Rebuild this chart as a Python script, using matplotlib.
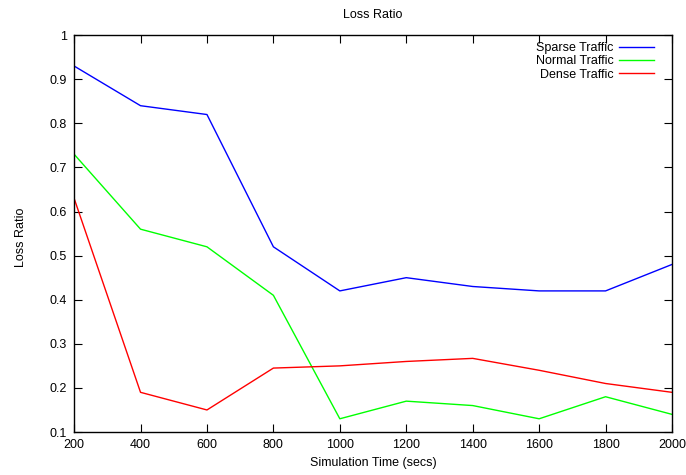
import matplotlib
matplotlib.use('Agg')
import matplotlib.pyplot as plt
from matplotlib.ticker import FormatStrFormatter

plt.rcParams['font.family'] = ['Liberation Sans', 'DejaVu Sans']

# data
sim_time = [200, 400, 600, 800, 1000, 1200, 1400, 1600, 1800, 2000]
sparse = [0.93, 0.84, 0.82, 0.52, 0.42, 0.45, 0.43, 0.42, 0.42, 0.48]
normal = [0.73, 0.56, 0.52, 0.41, 0.13, 0.17, 0.16, 0.13, 0.18, 0.14]
dense = [0.63, 0.19, 0.15, 0.245, 0.25, 0.26, 0.267, 0.24, 0.21, 0.19]
y_ticks = [0.1, 0.2, 0.3, 0.4, 0.5, 0.6, 0.7, 0.8, 0.9, 1.0]

fig = plt.figure(figsize=(6.86, 4.75), dpi=100)
ax = fig.add_axes([0.108, 0.0905, 0.8716, 0.8355])

ax.plot(sim_time, sparse, color='#0000ff', lw=1.0, label='Sparse Traffic')
ax.plot(sim_time, normal, color='#00ff00', lw=1.0, label='Normal Traffic')
ax.plot(sim_time, dense, color='#ff0000', lw=1.0, label='Dense Traffic')

ax.set_xlim(200, 2000)
ax.set_ylim(0.1, 1.0)
ax.set_xticks(sim_time)
ax.set_yticks(y_ticks)
ax.yaxis.set_major_formatter(FormatStrFormatter('%g'))
ax.tick_params(direction='in', length=6, width=0.8, top=True, right=True,
               labelsize=9, pad=5)
for s in ax.spines.values():
    s.set_linewidth(1.0)

ax.set_title('Loss Ratio', fontsize=9, pad=12)
ax.set_xlabel('Simulation Time (secs)', fontsize=9, labelpad=4)
ax.set_ylabel('Loss Ratio', fontsize=9)
ax.yaxis.set_label_coords(-0.078, 0.49)

ax.legend(loc='upper right', bbox_to_anchor=(0.978, 0.995), frameon=False,
          markerfirst=False, fontsize=9, handlelength=2.8, handletextpad=0.4,
          labelspacing=0.1, borderaxespad=0)

fig.savefig('out.png', dpi=100)
